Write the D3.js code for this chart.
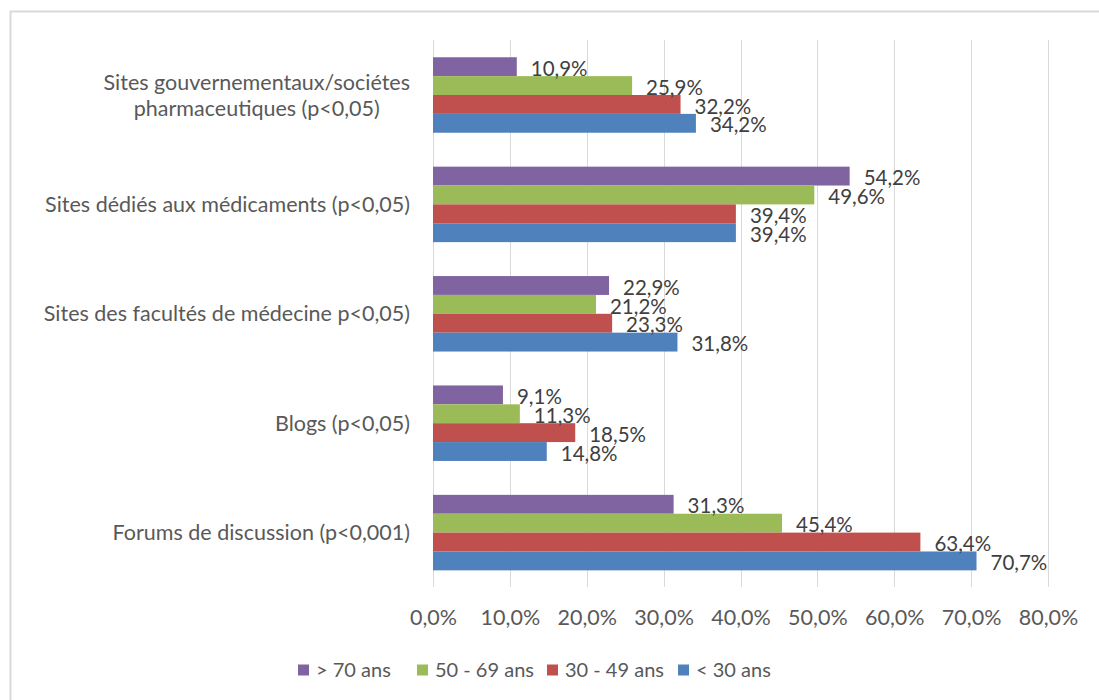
<!DOCTYPE html>
<html><head><meta charset="utf-8">
<script src="https://cdn.jsdelivr.net/npm/d3@7"></script>
<style>body{margin:0;background:#fff;}svg{display:block;font-family:Lato,"Open Sans",sans-serif;}</style>
</head><body><svg id="c" width="1099" height="700"></svg>
<script>
const categories = [
  ["Sites gouvernementaux/sociétes", "pharmaceutiques (p<0,05)"],
  ["Sites dédiés aux médicaments (p<0,05)"],
  ["Sites des facultés de médecine p<0,05)"],
  ["Blogs (p<0,05)"],
  ["Forums de discussion (p<0,001)"]
];
const seriesNames = ["> 70 ans", "50 - 69 ans", "30 - 49 ans", "< 30 ans"];
const over70 = [10.9, 54.2, 22.9, 9.1, 31.3];
const age50_69 = [25.9, 49.6, 21.2, 11.3, 45.4];
const age30_49 = [32.2, 39.4, 23.3, 18.5, 63.4];
const under30 = [34.2, 39.4, 31.8, 14.8, 70.7];
const tickValues = [0, 10, 20, 30, 40, 50, 60, 70, 80];
const colors = ["#8064A2", "#9BBB59", "#C0504D", "#4F81BD"];
const seriesValues = [over70, age50_69, age30_49, under30];

const FS = 21.5;
const FS_VAL = 20.5;
const FS_LEG = 20;
const svg = d3.select("#c");
svg.append("rect").attr("x", 10.5).attr("y", 11.5).attr("width", 1200).attr("height", 800)
  .attr("fill", "#fff").attr("stroke", "#d9d9d9").attr("stroke-width", 2);

const x = d3.scaleLinear().domain([0, 80]).range([433, 1048]);
const y0 = d3.scaleBand().domain(d3.range(categories.length)).range([40.3, 587.3]).paddingInner(0.31).paddingOuter(0.155);
const y1 = d3.scaleBand().domain(d3.range(seriesNames.length)).range([0, y0.bandwidth()]);

// gridlines
svg.append("g").selectAll("line").data(tickValues).join("line")
  .attr("x1", d => Math.round(x(d)) + 0.5).attr("x2", d => Math.round(x(d)) + 0.5)
  .attr("y1", 40).attr("y2", 587).attr("stroke", "#d9d9d9").attr("stroke-width", 1);

// x tick labels via axis
const xAxis = svg.append("g").attr("transform", "translate(0,587)")
  .call(d3.axisBottom(x).tickValues(tickValues).tickSize(0).tickPadding(0)
    .tickFormat(d => d3.format(".1f")(d).replace(".", ",") + "%"));
xAxis.select(".domain").remove();
xAxis.selectAll("text").attr("y", 30).attr("dy", "0.35em").attr("font-size", FS)
  .attr("fill", "#595959").attr("font-family", "Lato, 'Open Sans', sans-serif");

// bars
const groups = svg.append("g").selectAll("g").data(categories).join("g")
  .attr("transform", (d, i) => `translate(0,${y0(i)})`);
groups.each(function(cat, ci) {
  const g = d3.select(this);
  seriesValues.forEach((vals, si) => {
    const v = vals[ci];
    g.append("rect").attr("x", x(0)).attr("y", y1(si)).attr("width", x(v) - x(0))
      .attr("height", y1.bandwidth()).attr("fill", colors[si]);
  });
  seriesValues.forEach((vals, si) => {
    const v = vals[ci];
    g.append("text").attr("x", x(v) + 14).attr("y", y1(si) + y1.bandwidth() / 2 + 2)
      .attr("dy", "0.35em").attr("font-size", FS_VAL).attr("fill", "#404040")
      .text(d3.format(".1f")(v).replace(".", ",") + "%");
  });
});

// category labels
categories.forEach((lines, ci) => {
  const cy = y0(ci) + y0.bandwidth() / 2;
  const lh = 26;
  const g = svg.append("g");
  const texts = lines.map((l, li) => g.append("text")
    .attr("y", cy + (li - (lines.length - 1) / 2) * lh).attr("dy", "0.35em")
    .attr("font-size", FS).attr("fill", "#595959").text(l));
  const maxW = d3.max(texts, t => t.node().getComputedTextLength());
  texts.forEach(t => t.attr("x", 410 - maxW / 2).attr("text-anchor", "middle"));
});

// legend
const legX = [298, 417, 547, 678];
const leg = svg.append("g").selectAll("g").data(seriesNames).join("g")
  .attr("transform", (d, i) => `translate(${legX[i]},670)`);
leg.append("rect").attr("x", 0).attr("y", -5.5).attr("width", 11).attr("height", 11)
  .attr("fill", (d, i) => colors[i]);
leg.append("text").attr("x", 18).attr("y", 0).attr("dy", "0.35em").attr("font-size", FS_LEG)
  .attr("fill", "#595959").text(d => d);
</script></body></html>
